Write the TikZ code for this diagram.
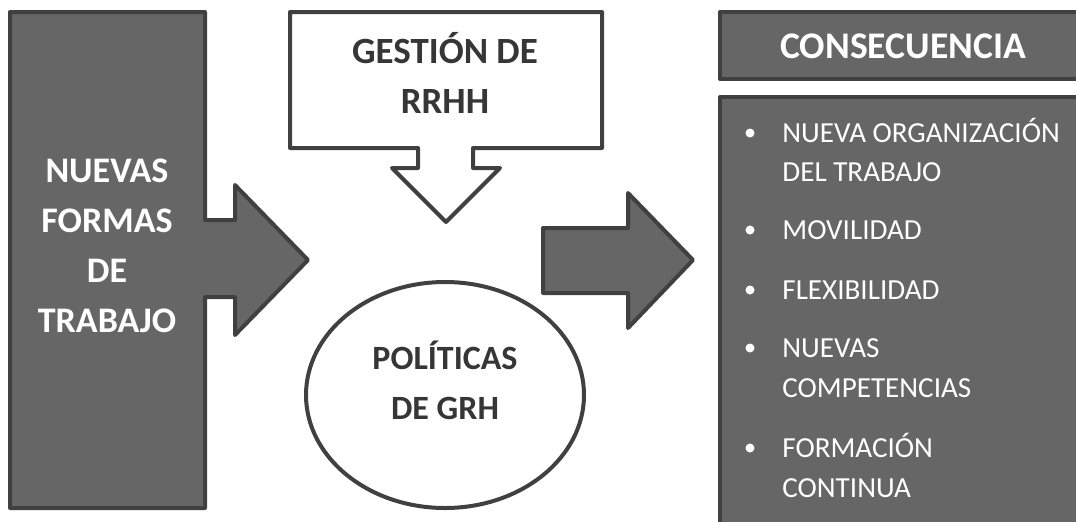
\documentclass[tikz,border=0pt]{standalone}
\usepackage{fontspec}
\setmainfont{Carlito}
\usetikzlibrary{shapes.geometric}
\definecolor{boxgray}{HTML}{666666}
\definecolor{edgegray}{HTML}{404040}
\definecolor{inkgray}{HTML}{363636}
\tikzset{
  darkshape/.style={fill=boxgray, draw=edgegray, line width=2pt, line join=round},
  lightshape/.style={fill=white, draw=edgegray, line width=2pt, line join=round},
  headtext/.style={font=\bfseries\fontsize{17}{25}\selectfont, align=center},
  listtext/.style={font=\fontsize{14.55}{20}\selectfont, text=white, anchor=base west, inner sep=0pt}
}
\begin{document}
\begin{tikzpicture}[x=0.5pt,y=-0.5pt]
\useasboundingbox (0,0) rectangle (1076,521);
\clip (0,0) rectangle (1076,521);
% left block with arrow
\draw[darkshape] (10,12)--(205,12)--(205,220)--(235,220)--(235,185)--(308,260)
--(235,335)--(235,297)--(205,297)--(205,508)--(10,508)--cycle;
\node[headtext, text=white, font=\bfseries\fontsize{18}{25}\selectfont] (formas) at (107,246) {NUEVAS\\FORMAS\\DE\\TRABAJO};
% top block with arrow down
\draw[lightshape] (290,12)--(602,12)--(602,148)--(473,148)--(473,168)--(500,168)
--(446,222)--(392,168)--(418,168)--(418,148)--(290,148)--cycle;
\node[headtext, text=inkgray, font=\bfseries\fontsize{18.5}{25}\selectfont] (gestion) at (445,73) {GESTIÓN DE\\RRHH};
% ellipse
\node[lightshape, ellipse, minimum width=139pt, minimum height=113pt] (elipse) at (445,395) {};
\node[headtext, text=inkgray] (politicas) at (445,380) {POLÍTICAS\\DE GRH};
% middle arrow
\draw[darkshape] (543,228)--(628,228)--(628,193)--(693,260)--(628,328)--(628,293)
--(543,293)--cycle;
% right boxes
\draw[darkshape] (720,12) rectangle (1090,79);
\draw[darkshape] (720,97) rectangle (1090,540);
\node[font=\bfseries\fontsize{18.8}{24}\selectfont, text=white] (consecuencia) at (903,46) {CONSECUENCIA};
\foreach \y in {133,230,290,348,448}
  \fill[white] (750,\y) circle[radius=4.5];
\foreach \y/\txt [count=\i] in {133/NUEVA ORGANIZACIÓN, 172/DEL TRABAJO, 230/MOVILIDAD,
  290/FLEXIBILIDAD, 348/NUEVAS, 388/COMPETENCIAS, 448/FORMACIÓN, 488/CONTINUA}
  \node[listtext] (item\i) at (782,\y+9) {\txt};
\end{tikzpicture}
\end{document}
